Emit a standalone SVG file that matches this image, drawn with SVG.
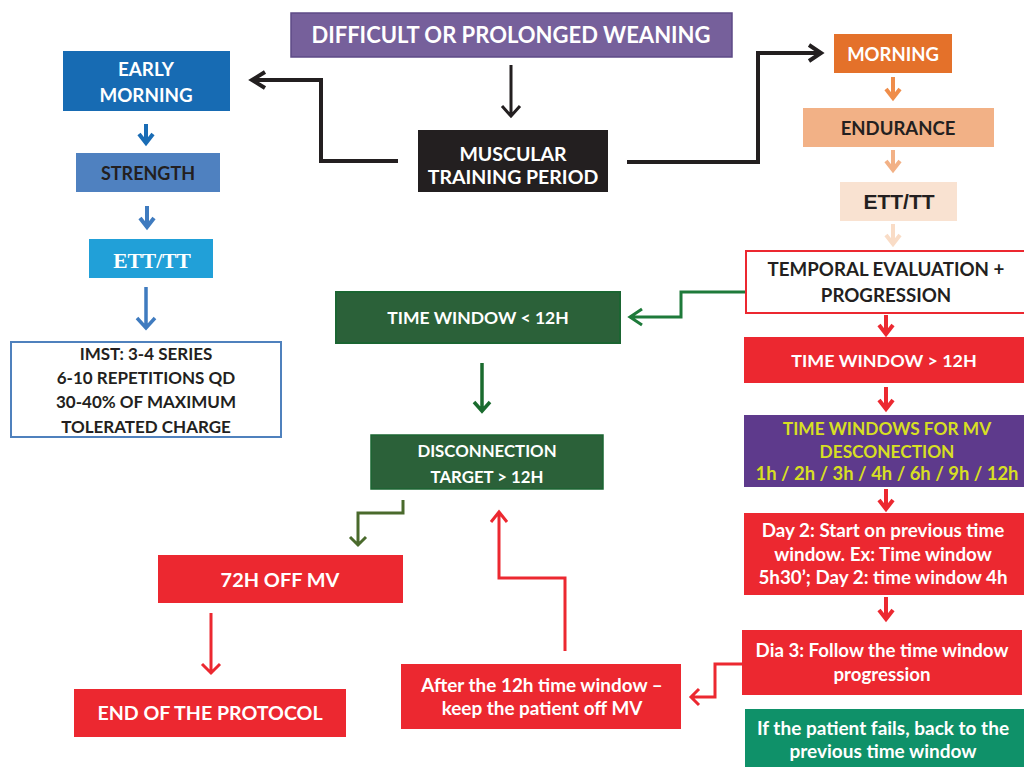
<svg xmlns="http://www.w3.org/2000/svg" width="1024" height="767" viewBox="0 0 1024 767">
<style>
text{font-family:Lato,"Liberation Sans",sans-serif;font-weight:bold;text-anchor:middle}
.w{fill:#ffffff}.d{fill:#231f20}.y{fill:#d7df23}
.c{fill:none;stroke-linejoin:miter;stroke-linecap:butt}
</style>
<rect width="1024" height="767" fill="#ffffff"/>
<g id="connectors" class="c">
  <path d="M511 65V116M502 106L511 116L520 106" stroke="#231f20" stroke-width="3"/>
  <path d="M398 161H321V80H252M265 72L252 80L265 88" stroke="#231f20" stroke-width="4"/>
  <path d="M627 162H758V53H821M809 45L821 53L809 61" stroke="#231f20" stroke-width="4"/>
  <path d="M146 124V143M139 134L146 143L153 134" stroke="#1a6cb5" stroke-width="4"/>
  <path d="M147 206V227M140 218L147 227L154 218" stroke="#3f7bbf" stroke-width="4"/>
  <path d="M146 287V328M137 318L146 328L155 318" stroke="#3f7bbf" stroke-width="3.5"/>
  <path d="M893 77V98M886 89L893 98L900 89" stroke="#ef8d4a" stroke-width="4"/>
  <path d="M893 150V170M886 161L893 170L900 161" stroke="#f2b186" stroke-width="4"/>
  <path d="M893 224V244M886 235L893 244L900 235" stroke="#f9dcc6" stroke-width="4"/>
  <path d="M886 315V334M879 325L886 334L893 325" stroke="#ec2830" stroke-width="4"/>
  <path d="M886 387V409M879 400L886 409L893 400" stroke="#ec2830" stroke-width="4"/>
  <path d="M886 489V509M879 500L886 509L893 500" stroke="#ec2830" stroke-width="4"/>
  <path d="M886 597V619M879 610L886 619L893 610" stroke="#ec2830" stroke-width="4"/>
  <path d="M745 292H681V317H630M642 309L630 317L642 325" stroke="#1e7a3a" stroke-width="3"/>
  <path d="M482 363V411M474 402L482 411L490 402" stroke="#1a6b2e" stroke-width="3.5"/>
  <path d="M403 500V513H358V545M350 537L358 545L366 537" stroke="#4a6a2c" stroke-width="3"/>
  <path d="M211 613V673M202 664L211 673L220 664" stroke="#ec2830" stroke-width="3"/>
  <path d="M565 651V578H499V512M491 522L499 512L507 522" stroke="#ec2830" stroke-width="3"/>
  <path d="M742 664H715V697H691M699 689L691 697L699 705" stroke="#ec2830" stroke-width="3"/>
</g>
<g id="title">
  <rect x="291" y="13" width="441" height="44" fill="#76609b" stroke="#5d4a86" stroke-width="1.5"/>
  <text x="511" y="43" font-size="22" class="w">DIFFICULT OR PROLONGED WEANING</text>
</g>
<g id="muscular">
  <rect x="418" y="130" width="190" height="62" fill="#231f20"/>
  <text x="513" y="161" font-size="19.5" class="w">MUSCULAR</text>
  <text x="513" y="184" font-size="19.5" class="w">TRAINING PERIOD</text>
</g>
<g id="early-morning">
  <rect x="63" y="51" width="167" height="60" fill="#176bb3"/>
  <text x="146" y="76" font-size="18.8" class="w">EARLY</text>
  <text x="146" y="102" font-size="18.8" class="w">MORNING</text>
</g>
<g id="strength">
  <rect x="76" y="153" width="144" height="39" fill="#4f81c0"/>
  <text x="148" y="180" font-size="18" class="d">STRENGTH</text>
</g>
<g id="ett-left">
  <rect x="89" y="239" width="124" height="39" fill="#21a0d8"/>
  <text x="152" y="268" font-size="21.5" class="w" style="font-family:'Liberation Serif',serif">ETT/TT</text>
</g>
<g id="imst">
  <rect x="11" y="342" width="270" height="95" fill="#ffffff" stroke="#4f81bd" stroke-width="2"/>
  <text x="146" y="360" font-size="17" class="d">IMST: 3-4 SERIES</text>
  <text x="146" y="384" font-size="17" class="d">6-10 REPETITIONS QD</text>
  <text x="146" y="408" font-size="17" class="d">30-40% OF MAXIMUM</text>
  <text x="146" y="433" font-size="17" class="d">TOLERATED CHARGE</text>
</g>
<g id="morning">
  <rect x="834" y="34" width="118" height="39" fill="#e4712a"/>
  <text x="893" y="61" font-size="18.5" class="w">MORNING</text>
</g>
<g id="endurance">
  <rect x="803" y="108" width="191" height="39" fill="#f2b186"/>
  <text x="898" y="135" font-size="18.5" class="d">ENDURANCE</text>
</g>
<g id="ett-right">
  <rect x="840" y="182" width="117" height="39" fill="#f9e2d1"/>
  <text x="899" y="209" font-size="21" class="d" style="font-family:'Liberation Sans',sans-serif">ETT/TT</text>
</g>
<g id="temporal">
  <rect x="746" y="251" width="285" height="62" fill="#ffffff" stroke="#ec2830" stroke-width="2"/>
  <text x="886" y="276" font-size="18.7" class="d">TEMPORAL EVALUATION +</text>
  <text x="886" y="302" font-size="18.7" class="d">PROGRESSION</text>
</g>
<g id="tw-gt-12">
  <rect x="744" y="337" width="280" height="46" fill="#ec2830"/>
  <text x="884" y="367" font-size="17.9" class="w">TIME WINDOW &gt; 12H</text>
</g>
<g id="tw-mv">
  <rect x="744" y="415" width="280" height="72" fill="#5e3a8c"/>
  <text x="887" y="435" font-size="17.3" class="y">TIME WINDOWS FOR MV</text>
  <text x="887" y="458" font-size="17.3" class="y">DESCONECTION</text>
  <text x="887" y="480" font-size="18.4" class="y">1h / 2h / 3h / 4h / 6h / 9h / 12h</text>
</g>
<g id="day2">
  <rect x="744" y="513" width="280" height="82" fill="#ec2830"/>
  <text x="883" y="537" font-size="18.8" class="w">Day 2: Start on previous time</text>
  <text x="883" y="561" font-size="18.8" class="w">window. Ex: Time window</text>
  <text x="883" y="584" font-size="18.8" class="w">5h30’; Day 2: time window 4h</text>
</g>
<g id="dia3">
  <rect x="742" y="630" width="280" height="65" fill="#ec2830"/>
  <text x="882" y="657" font-size="18.7" class="w">Dia 3: Follow the time window</text>
  <text x="882" y="681" font-size="18.7" class="w">progression</text>
</g>
<g id="fails">
  <rect x="745" y="709" width="279" height="58" fill="#0f9169"/>
  <text x="883" y="735" font-size="19" class="w">If the patient fails, back to the</text>
  <text x="883" y="758" font-size="19" class="w">previous time window</text>
</g>
<g id="tw-lt-12">
  <rect x="336" y="292" width="284" height="51" fill="#2b6139" stroke="#1b6532" stroke-width="2"/>
  <text x="478" y="324" font-size="17.5" class="w">TIME WINDOW &lt; 12H</text>
</g>
<g id="disconnection">
  <rect x="371" y="435" width="232" height="54" fill="#2b6139" stroke="#1b6532" stroke-width="1.5"/>
  <text x="487" y="457" font-size="16.8" class="w">DISCONNECTION</text>
  <text x="487" y="483" font-size="16.8" class="w">TARGET &gt; 12H</text>
</g>
<g id="off-mv">
  <rect x="158" y="555" width="245" height="48" fill="#ec2830"/>
  <text x="280" y="587" font-size="19.9" class="w">72H OFF MV</text>
</g>
<g id="end">
  <rect x="74" y="689" width="272" height="48" fill="#ec2830"/>
  <text x="210" y="720" font-size="19.6" class="w">END OF THE PROTOCOL</text>
</g>
<g id="after">
  <rect x="401" y="664" width="280" height="65" fill="#ec2830"/>
  <text x="542" y="692" font-size="18.9" class="w">After the 12h time window –</text>
  <text x="542" y="715" font-size="18.9" class="w">keep the patient off MV</text>
</g>
</svg>
